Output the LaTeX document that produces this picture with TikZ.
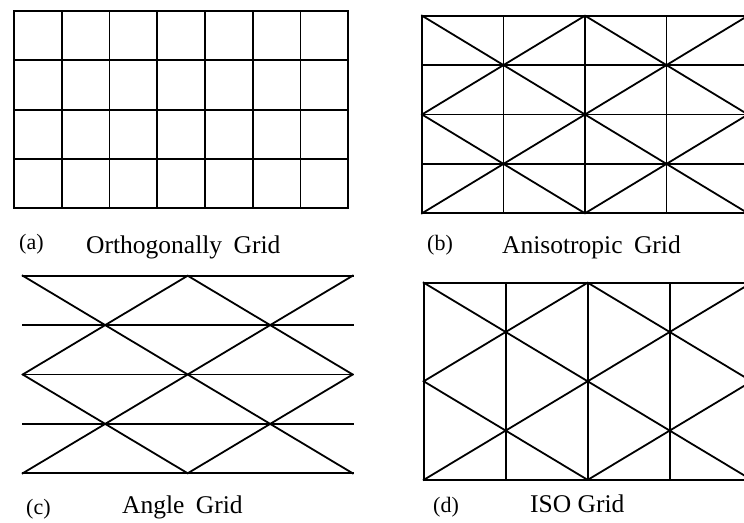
\documentclass[tikz,border=0pt]{standalone}
\usepackage{fontspec}
\setmainfont{Liberation Serif}
\begin{document}
\begin{tikzpicture}[x=1pt,y=-1pt,
  gridline/.style={line width=1.8pt,line cap=rect,line join=miter},
  tag/.style={anchor=base west,inner sep=0pt,font=\fontsize{22}{26}\selectfont},
  caption/.style={anchor=base west,inner sep=0pt,font=\fontsize{25.5}{30}\selectfont}]
\useasboundingbox (0,0) rectangle (744,522);
\clip (0,0) rectangle (744,522);
% (a) orthogonal grid
\begin{scope}[shift={(14,11)},x=47.75pt,y=-49.3pt]
  \foreach \i in {0,...,7} \draw[gridline] (\i,0) -- (\i,4);
  \foreach \j in {0,...,4} \draw[gridline] (0,\j) -- (7,\j);
\end{scope}
% (b) anisotropic grid
\begin{scope}[shift={(422,15.7)},x=81.5pt,y=-49.4pt]
  \foreach \i in {0,...,4} \draw[gridline] (\i,0) -- (\i,4);
  \foreach \j in {0,...,4} \draw[gridline] (0,\j) -- (4,\j);
  \draw[gridline] (0,0) -- (4,4) (0,2) -- (2,0) -- (4,2) (0,2) -- (2,4) -- (4,2) (0,4) -- (4,0);
\end{scope}
% (c) angle grid
\begin{scope}[shift={(22.7,275.7)},x=82.5pt,y=-49.4pt]
  \foreach \j in {0,...,4} \draw[gridline] (0,\j) -- (4,\j);
  \draw[gridline] (0,0) -- (4,4) (0,2) -- (2,0) -- (4,2) (0,2) -- (2,4) -- (4,2) (0,4) -- (4,0);
\end{scope}
% (d) ISO grid
\begin{scope}[shift={(423.7,282.7)},x=82pt,y=-49.3pt]
  \foreach \i in {0,...,4} \draw[gridline] (\i,0) -- (\i,4);
  \draw[gridline] (0,0) -- (4,0) (0,4) -- (4,4);
  \draw[gridline] (0,0) -- (4,4) (0,2) -- (2,0) -- (4,2) (0,2) -- (2,4) -- (4,2) (0,4) -- (4,0);
\end{scope}
% labels
\node[tag] (ta) at (19,249) {(a)};
\node[caption] (ca) at (86,253) {Orthogonally\hspace{0.2em} Grid};
\node[tag] (tb) at (427,250) {(b)};
\node[caption] (cb) at (502,253) {Anisotropic\hspace{0.2em} Grid};
\node[tag] (tc) at (26,514) {(c)};
\node[caption] (cc) at (122,513) {Angle\hspace{0.2em} Grid};
\node[tag] (td) at (433,512) {(d)};
\node[caption] (cd) at (530,512) {ISO Grid};
\end{tikzpicture}
\end{document}
